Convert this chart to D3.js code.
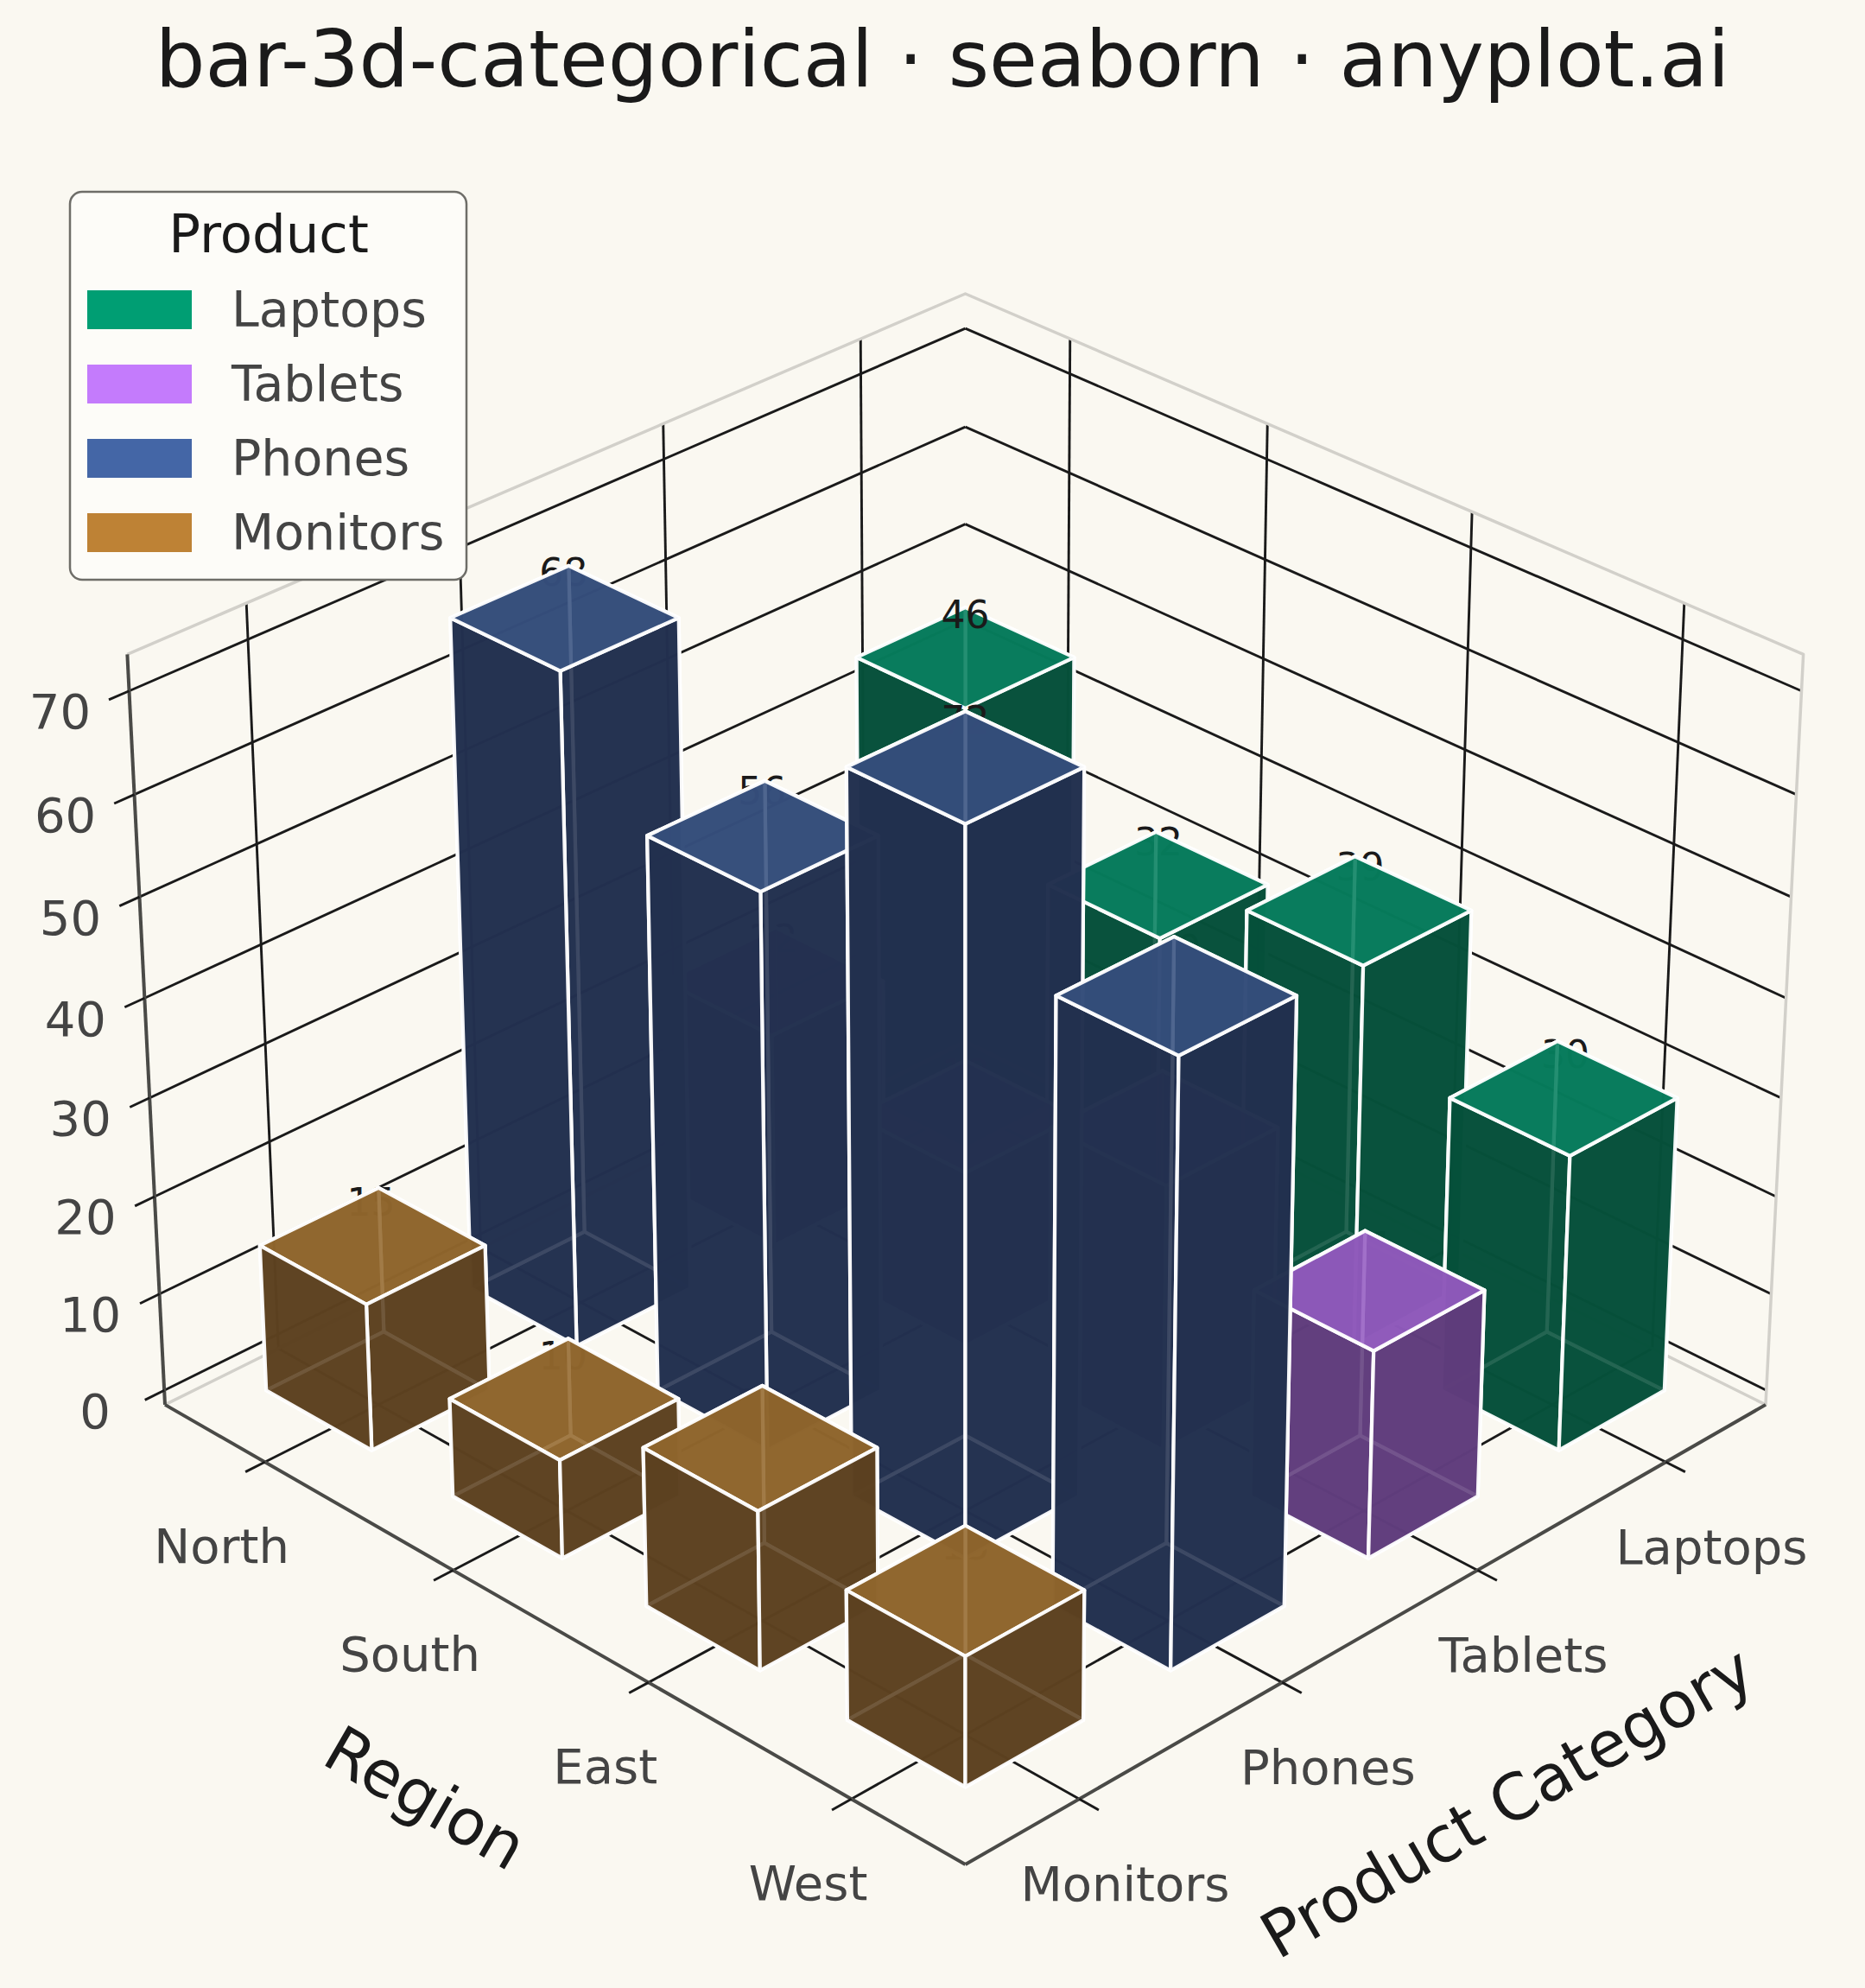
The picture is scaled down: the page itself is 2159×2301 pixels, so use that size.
<!DOCTYPE html>
<html>
<head>
<meta charset="utf-8">
<script src="https://cdn.jsdelivr.net/npm/d3@7"></script>
<style>
    body { margin: 0; background: #FAF8F1; }
    svg { display: block; font-family: 'DejaVu Sans', sans-serif; }
</style>
</head>
<body>
<div id="chart"></div>
<script>
const regions = ['North', 'South', 'East', 'West'];
const products = ['Monitors', 'Phones', 'Tablets', 'Laptops'];
const legendOrder = ['Laptops', 'Tablets', 'Phones', 'Monitors'];

// sales per region (North, South, East, West) for each product
const laptopSales = [46, 32, 39, 30];
const tabletSales = [22, 18, 27, 21];
const phoneSales = [68, 56, 72, 60];
const monitorSales = [15, 10, 16, 13];

const zTicks = [0, 10, 20, 30, 40, 50, 60, 70];

class Bar3DChart {
    constructor(_config, _data) {
        this.config = {
            parentElement: _config.parentElement,
            containerWidth: _config.containerWidth || 2159,
            containerHeight: _config.containerHeight || 2301,
            elev: 30,
            azim: -45,
            dist: 16.3,
            boxHeight: 0.75,
            barWidth: 0.57,
            colors: {
                Laptops: { base: '#009E73', top: '#06805E', side: '#06503A' },
                Tablets: { base: '#C47BFC', top: '#945CC2', side: '#603C7C' },
                Phones: { base: '#4466A6', top: '#37517F', side: '#22304F' },
                Monitors: { base: '#BE8235', top: '#94692D', side: '#5C4120' }
            }
        };
        this.data = _data;

        this.initVis();
    }

    initVis() {
        let vis = this;
        const cfg = vis.config;
        const hz = cfg.boxHeight;

        vis.svg = d3.select(cfg.parentElement)
            .append('svg')
            .attr('width', cfg.containerWidth)
            .attr('height', cfg.containerHeight);

        vis.svg.append('rect')
            .attr('width', cfg.containerWidth)
            .attr('height', cfg.containerHeight)
            .attr('fill', '#FAF8F1');

        // camera, same idea as matplotlib's view_init(elev, azim)
        const el = cfg.elev * Math.PI / 180;
        const az = cfg.azim * Math.PI / 180;
        const eye = [Math.cos(el) * Math.cos(az), Math.cos(el) * Math.sin(az), Math.sin(el)];
        const right = [-Math.sin(az), Math.cos(az), 0];
        const up = [-Math.sin(el) * Math.cos(az), -Math.sin(el) * Math.sin(az), Math.cos(el)];

        vis.project = (X, Y, Z) => {
            const depth = cfg.dist - (X * eye[0] + Y * eye[1] + Z * eye[2]);
            return {
                sx: (X * right[0] + Y * right[1]) / depth,
                sy: (X * up[0] + Y * up[1] + Z * up[2]) / depth,
                depth: depth
            };
        };

        // fit the projected box onto the page
        const L0 = vis.project(-1, -1, -hz);
        const R0 = vis.project(1, 1, -hz);
        const F0 = vis.project(1, -1, -hz);
        const B1 = vis.project(-1, 1, hz);
        vis.sxScale = d3.scaleLinear().domain([L0.sx, R0.sx]).range([191, 2044]);
        vis.syScale = d3.scaleLinear().domain([B1.sy, F0.sy]).range([340, 2158]);
        vis.pt = (X, Y, Z) => {
            const p = vis.project(X, Y, Z);
            return [vis.sxScale(p.sx), vis.syScale(p.sy)];
        };

        // data scales -> normalised box coordinates (auto limits + 5% margin + view margin)
        vis.xIndex = d3.scalePoint().domain(regions).range([0, regions.length - 1]);
        vis.yIndex = d3.scalePoint().domain(products).range([0, products.length - 1]);
        const halfW = cfg.barWidth / 2;
        const padded = n => {
            const lo = -halfW, hi = n - 1 + halfW;
            const span = (hi - lo) * 1.1;
            const mid = (lo + hi) / 2;
            return [mid - span / 2 - span / 48, mid + span / 2 + span / 48];
        };
        vis.xScale = d3.scaleLinear().domain(padded(regions.length)).range([-1, 1]);
        vis.yScale = d3.scaleLinear().domain(padded(products.length)).range([-1, 1]);
        vis.zMax = d3.max(vis.data, d => d.value);
        vis.zScale = d3.scaleLinear().domain([-vis.zMax / 48, vis.zMax + vis.zMax / 48]).range([-hz, hz]);

        vis.line = d3.line();

        vis.paneG = vis.svg.append('g').attr('class', 'panes');
        vis.axisG = vis.svg.append('g').attr('class', 'axes');
        vis.backBarsG = vis.svg.append('g').attr('class', 'bars-back');
        vis.labelsG = vis.svg.append('g').attr('class', 'value-labels');
        vis.frontBarsG = vis.svg.append('g').attr('class', 'bars-front');

        // Add title
        vis.svg.append('text')
            .attr('x', 1091)
            .attr('y', 100)
            .attr('text-anchor', 'middle')
            .attr('fill', '#1a1a1a')
            .style('font-size', '91px')
            .text('bar-3d-categorical · seaborn · anyplot.ai');

        vis.legendG = vis.svg.append('g')
            .attr('transform', 'translate(81,222)');

        vis.updateVis();
    }

    updateVis() {
        let vis = this;
        const w = vis.config.barWidth / 2;

        // one box per region x product
        vis.bars = vis.data.map(d => {
            const xi = vis.xIndex(d.region);
            const yi = vis.yIndex(d.product);
            const xs = [vis.xScale(xi - w), vis.xScale(xi + w)];
            const ys = [vis.yScale(yi - w), vis.yScale(yi + w)];
            const zs = [vis.zScale(0), vis.zScale(d.value)];
            const corners = d3.range(8).map(i => [xs[i & 1], ys[(i >> 1) & 1], zs[(i >> 2) & 1]]);
            const faces = [
                { idx: [0, 1, 3, 2], kind: 'side' },
                { idx: [4, 5, 7, 6], kind: 'top' },
                { idx: [0, 1, 5, 4], kind: 'side' },
                { idx: [2, 3, 7, 6], kind: 'side' },
                { idx: [0, 2, 6, 4], kind: 'side' },
                { idx: [1, 3, 7, 5], kind: 'side' }
            ].map(f => ({
                kind: f.kind,
                pts: f.idx.map(i => vis.pt(...corners[i])),
                depth: d3.mean(f.idx, i => vis.project(...corners[i]).depth)
            })).sort((a, b) => d3.descending(a.depth, b.depth));
            const cx = vis.xScale(xi), cy = vis.yScale(yi);
            return {
                ...d,
                faces: faces,
                depth: vis.project(cx, cy, 0).depth,
                labelPos: vis.pt(cx, cy, vis.zScale(d.value + vis.zMax * 0.061))
            };
        }).sort((a, b) => d3.descending(a.depth, b.depth));

        vis.renderVis();
    }

    renderVis() {
        let vis = this;
        const hz = vis.config.boxHeight;
        const pt = vis.pt;
        const colors = vis.config.colors;

        // Pane grid lines
        const gridLines = [];
        zTicks.forEach(t => {
            const Z = vis.zScale(t);
            gridLines.push([pt(-1, -1, Z), pt(-1, 1, Z)]);
            gridLines.push([pt(-1, 1, Z), pt(1, 1, Z)]);
        });
        products.forEach(p => {
            const Y = vis.yScale(vis.yIndex(p));
            gridLines.push([pt(-1, Y, -hz), pt(-1, Y, hz)]);
            gridLines.push([pt(-1, Y, -hz), pt(1, Y, -hz)]);
        });
        regions.forEach(r => {
            const X = vis.xScale(vis.xIndex(r));
            gridLines.push([pt(X, 1, -hz), pt(X, 1, hz)]);
            gridLines.push([pt(X, -1, -hz), pt(X, 1, -hz)]);
        });

        vis.paneG.selectAll('.grid')
            .data(gridLines)
            .join('path')
            .attr('class', 'grid')
            .attr('d', vis.line)
            .attr('fill', 'none')
            .attr('stroke', '#1a1a1a')
            .attr('stroke-width', 2.9);

        // Pane outline
        vis.paneG.append('path')
            .attr('d', vis.line([pt(-1, -1, -hz), pt(-1, 1, -hz), pt(1, 1, -hz), pt(1, 1, hz), pt(-1, 1, hz), pt(-1, -1, hz)]))
            .attr('fill', 'none')
            .attr('stroke', '#d2d0ca')
            .attr('stroke-width', 3.5)
            .attr('stroke-linejoin', 'round');

        // Axis lines
        const axisLines = [
            [pt(-1, -1, -hz), pt(1, -1, -hz)],
            [pt(1, -1, -hz), pt(1, 1, -hz)],
            [pt(-1, -1, -hz), pt(-1, -1, hz)]
        ];
        vis.axisG.selectAll('.axis-line')
            .data(axisLines)
            .join('path')
            .attr('class', 'axis-line')
            .attr('d', vis.line)
            .attr('stroke', '#4a4a47')
            .attr('stroke-width', 4);

        const tl = 0.045;
        const ticks = [];
        regions.forEach(r => {
            const X = vis.xScale(vis.xIndex(r));
            ticks.push({ label: r, seg: [pt(X, -1, -hz), pt(X, -1 - tl, -hz)], dx: -50, dy: 97 });
        });
        products.forEach(p => {
            const Y = vis.yScale(vis.yIndex(p));
            ticks.push({ label: p, seg: [pt(1, Y, -hz), pt(1 + tl, Y, -hz)], dx: 53, dy: 98 });
        });
        zTicks.forEach(t => {
            const Z = vis.zScale(t);
            ticks.push({ label: t, seg: [pt(-1, -1, Z), pt(-1, -1 - tl, Z)], dx: -80, dy: 24 });
        });

        vis.axisG.selectAll('.tick')
            .data(ticks)
            .join('path')
            .attr('class', 'tick')
            .attr('d', d => vis.line(d.seg))
            .attr('stroke', '#1a1a1a')
            .attr('stroke-width', 2.9);

        vis.axisG.selectAll('.tick-label')
            .data(ticks)
            .join('text')
            .attr('class', 'tick-label')
            .attr('x', d => d.seg[0][0] + d.dx)
            .attr('y', d => d.seg[0][1] + d.dy)
            .attr('text-anchor', 'middle')
            .attr('dominant-baseline', 'central')
            .attr('fill', '#444444')
            .style('font-size', '56px')
            .text(d => d.label);

        // Add axis labels
        const xMid = pt(0, -1, -hz);
        vis.axisG.append('text')
            .attr('transform', `translate(${xMid[0] - 144},${xMid[1] + 199}) rotate(30)`)
            .attr('text-anchor', 'middle')
            .attr('dominant-baseline', 'central')
            .attr('fill', '#1a1a1a')
            .style('font-size', '74px')
            .text('Region');

        const yMid = pt(1, 0, -hz);
        vis.axisG.append('text')
            .attr('transform', `translate(${yMid[0] + 146},${yMid[1] + 204}) rotate(-30)`)
            .attr('text-anchor', 'middle')
            .attr('dominant-baseline', 'central')
            .attr('fill', '#1a1a1a')
            .style('font-size', '74px')
            .text('Product Category');

        // Bars: farthest box goes under the value labels, the rest over them
        const drawBars = (g, bars) => {
            const barG = g.selectAll('.bar')
                .data(bars)
                .join('g')
                .attr('class', 'bar');

            barG.selectAll('path')
                .data(d => d.faces.map(f => ({ ...f, product: d.product })))
                .join('path')
                .attr('d', f => vis.line(f.pts) + 'Z')
                .attr('fill', f => colors[f.product][f.kind])
                .attr('fill-opacity', 0.88)
                .attr('stroke', '#ffffff')
                .attr('stroke-opacity', 0.95)
                .attr('stroke-width', 4.2)
                .attr('stroke-linejoin', 'round');
        };

        drawBars(vis.backBarsG, vis.bars.slice(0, 1));
        drawBars(vis.frontBarsG, vis.bars.slice(1));

        vis.labelsG.selectAll('text')
            .data(vis.bars)
            .join('text')
            .attr('x', d => d.labelPos[0])
            .attr('y', d => d.labelPos[1])
            .attr('text-anchor', 'middle')
            .attr('dominant-baseline', 'central')
            .attr('fill', '#1a1a1a')
            .style('font-size', '44px')
            .text(d => d.value);

        // Legend
        vis.legendG.append('rect')
            .attr('width', 459)
            .attr('height', 449)
            .attr('rx', 14)
            .attr('fill', '#FDFCF8')
            .attr('stroke', '#6e6d68')
            .attr('stroke-width', 2.5);

        vis.legendG.append('text')
            .attr('x', 230)
            .attr('y', 70)
            .attr('text-anchor', 'middle')
            .attr('fill', '#1a1a1a')
            .style('font-size', '61px')
            .text('Product');

        const entries = vis.legendG.selectAll('.legend-entry')
            .data(legendOrder)
            .join('g')
            .attr('class', 'legend-entry')
            .attr('transform', (d, i) => `translate(20,${114 + i * 86})`);

        entries.append('rect')
            .attr('width', 121)
            .attr('height', 45)
            .attr('fill', d => colors[d].base);

        entries.append('text')
            .attr('x', 167)
            .attr('y', 42)
            .attr('fill', '#444444')
            .style('font-size', '57px')
            .text(d => d);
    }
}

const salesByProduct = {
    Laptops: laptopSales,
    Tablets: tabletSales,
    Phones: phoneSales,
    Monitors: monitorSales
};
const tableData = [];
products.forEach(p => {
    regions.forEach((r, i) => {
        tableData.push({ region: r, product: p, value: salesByProduct[p][i] });
    });
});

const chart = new Bar3DChart({ parentElement: '#chart' }, tableData);
</script>
</body>
</html>
